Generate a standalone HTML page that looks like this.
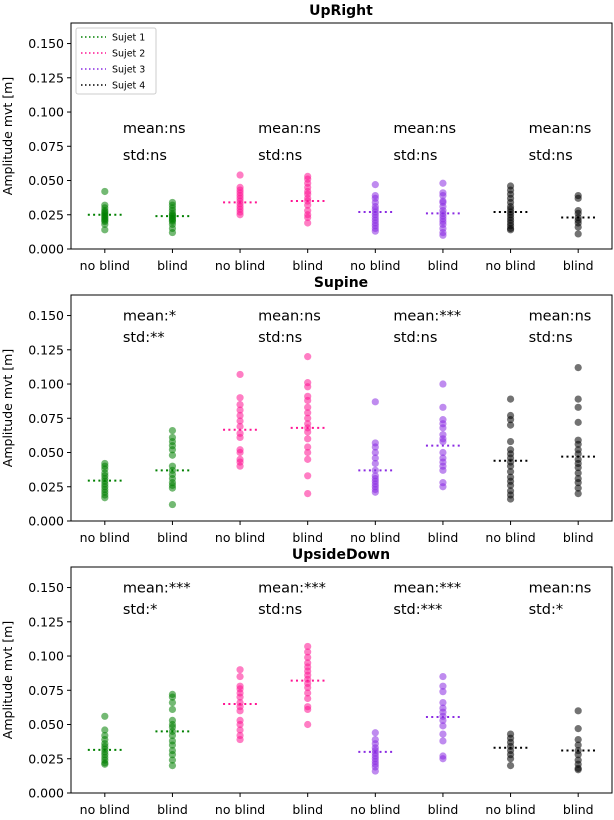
<!DOCTYPE html>
<html><head><meta charset="utf-8"><style>
body{margin:0;background:#fff}
svg{font-family:"DejaVu Sans","Liberation Sans",sans-serif}
</style></head><body>
<svg id="c" width="614" height="815"></svg>
<script>
const categories=["no blind","blind","no blind","blind","no blind","blind","no blind","blind"];
const yTicks=[0,0.025,0.05,0.075,0.1,0.125,0.15];
const panelTitles=["UpRight","Supine","UpsideDown"];
const legendLabels=["Sujet 1","Sujet 2","Sujet 3","Sujet 4"];
const colors=["#008000","#ff1493","#8a2be2","#000000"];
const upright=[
[0.042,0.032,0.030,0.028,0.027,0.026,0.025,0.024,0.023,0.022,0.021,0.020,0.018,0.014],
[0.034,0.032,0.030,0.028,0.026,0.025,0.024,0.023,0.022,0.021,0.020,0.018,0.015,0.012],
[0.054,0.045,0.043,0.041,0.039,0.037,0.035,0.033,0.031,0.029,0.027,0.025],
[0.053,0.051,0.048,0.045,0.042,0.040,0.037,0.035,0.032,0.028,0.025,0.023,0.019],
[0.047,0.039,0.037,0.034,0.031,0.029,0.027,0.025,0.023,0.021,0.019,0.017,0.015,0.013],
[0.048,0.041,0.039,0.035,0.034,0.031,0.028,0.026,0.024,0.022,0.020,0.018,0.015,0.012,0.010],
[0.046,0.043,0.040,0.037,0.034,0.031,0.029,0.027,0.025,0.023,0.021,0.019,0.017,0.015,0.014],
[0.039,0.037,0.028,0.026,0.023,0.021,0.019,0.016,0.011]];
const supine=[
[0.042,0.040,0.038,0.035,0.033,0.031,0.029,0.027,0.025,0.023,0.021,0.019,0.017],
[0.066,0.061,0.058,0.055,0.052,0.048,0.040,0.037,0.034,0.031,0.028,0.026,0.024,0.012],
[0.107,0.090,0.085,0.081,0.077,0.073,0.069,0.064,0.061,0.052,0.050,0.045,0.043,0.040],
[0.120,0.101,0.098,0.091,0.088,0.083,0.079,0.075,0.071,0.068,0.065,0.060,0.054,0.050,0.045,0.033,0.020],
[0.087,0.057,0.054,0.050,0.046,0.042,0.037,0.033,0.031,0.029,0.027,0.025,0.023,0.021],
[0.100,0.083,0.074,0.071,0.068,0.063,0.060,0.058,0.050,0.046,0.043,0.040,0.037,0.028,0.025],
[0.089,0.077,0.074,0.070,0.058,0.052,0.049,0.046,0.043,0.040,0.036,0.032,0.029,0.026,0.022,0.019,0.016],
[0.112,0.089,0.083,0.072,0.059,0.056,0.052,0.049,0.045,0.042,0.039,0.035,0.031,0.028,0.024,0.020]];
const upsidedown=[
[0.056,0.046,0.042,0.039,0.036,0.034,0.032,0.030,0.028,0.026,0.024,0.022,0.021],
[0.072,0.070,0.066,0.061,0.053,0.050,0.048,0.045,0.042,0.038,0.035,0.031,0.028,0.024,0.020],
[0.090,0.085,0.078,0.076,0.073,0.070,0.066,0.063,0.060,0.053,0.050,0.046,0.042,0.039],
[0.107,0.103,0.099,0.095,0.092,0.089,0.086,0.083,0.080,0.077,0.073,0.069,0.063,0.061,0.050],
[0.044,0.039,0.036,0.033,0.031,0.029,0.027,0.025,0.023,0.021,0.019,0.016],
[0.085,0.078,0.074,0.066,0.062,0.059,0.056,0.053,0.049,0.043,0.038,0.027,0.025],
[0.043,0.040,0.037,0.034,0.031,0.028,0.025,0.020],
[0.060,0.047,0.039,0.035,0.031,0.028,0.024,0.021,0.018,0.017]];
const uprightMeans=[0.025,0.024,0.034,0.035,0.027,0.026,0.027,0.023];
const supineMeans=[0.0295,0.037,0.0666,0.068,0.037,0.055,0.044,0.047];
const upsidedownMeans=[0.0315,0.045,0.065,0.082,0.030,0.0555,0.033,0.031];
const statsMean=[["mean:ns","mean:ns","mean:ns","mean:ns"],["mean:*","mean:ns","mean:***","mean:ns"],["mean:***","mean:***","mean:***","mean:ns"]];
const statsStd=[["std:ns","std:ns","std:ns","std:ns"],["std:**","std:ns","std:ns","std:ns"],["std:*","std:ns","std:***","std:*"]];
const statY=[[0.0885,0.0687],[0.150,0.1345],[0.150,0.1345]];
const panelData=[upright,supine,upsidedown];
const panelMeans=[uprightMeans,supineMeans,upsidedownMeans];

const NS="http://www.w3.org/2000/svg";
const svg=document.getElementById('c');
function mk(tag,at,parent){const e=document.createElementNS(NS,tag);for(const k in at)e.setAttribute(k,at[k]);(parent||svg).appendChild(e);return e;}
const L=71,R=612,H=226,tops=[23,295,567];
const xs=i=>L+(i+0.5)*(R-L)/8;
tops.forEach((top,p)=>{
  const bottom=top+H;
  const ys=v=>bottom-v/0.165*H;
  const g=mk('g',{});
  
  
  const t=mk('text',{x:341,y:top-8,'text-anchor':'middle','font-size':14,'font-weight':'bold'},g);t.textContent=panelTitles[p];
  
  const yl=mk('text',{transform:`translate(12,${top+H/2}) rotate(-90)`,'text-anchor':'middle','font-size':12.5},g);yl.textContent="Amplitude mvt [m]";
  
  yTicks.forEach(v=>{
    mk('line',{x1:L-4,x2:L,y1:ys(v),y2:ys(v),stroke:'#000'},g);
    const tl=mk('text',{x:L-7,y:ys(v)+4.5,'text-anchor':'end','font-size':12.5},g);tl.textContent=v.toFixed(3);
    
  });
  categories.forEach((c,i)=>{
    mk('line',{x1:xs(i),x2:xs(i),y1:bottom,y2:bottom+4,stroke:'#000'},g);
    const tl=mk('text',{x:xs(i),y:bottom+21,'text-anchor':'middle','font-size':12.5},g);tl.textContent=c;
    
    const col=colors[Math.floor(i/2)];
    const vals=panelData[p][i];
    vals.forEach(v=>{
      const d=mk('circle',{cx:xs(i),cy:ys(v),r:3.6,fill:col,'fill-opacity':0.55},g);
      
    });
    const m=panelMeans[p][i];
    const ml=mk('line',{x1:xs(i)-17,x2:xs(i)+17,y1:ys(m),y2:ys(m),stroke:col,'stroke-width':2,'stroke-dasharray':'2 3.3'},g);
    
  });
  for(let k=0;k<4;k++){
    const a=mk('text',{x:xs(2*k)+18,y:ys(statY[p][0])+5,'font-size':14.5},g);a.textContent=statsMean[p][k];
    
    const b=mk('text',{x:xs(2*k)+18,y:ys(statY[p][1])+5,'font-size':14.5},g);b.textContent=statsStd[p][k];
    
  }
  const fr=mk('rect',{x:L,y:top,width:R-L,height:H,fill:'none',stroke:'#000','stroke-width':1},g);
  
});
const lg=mk('g',{});

mk('rect',{x:76,y:28,width:80,height:66,rx:2,fill:'#fff',stroke:'#ccc'},lg);
legendLabels.forEach((s,i)=>{
  const y=37+i*16;
  mk('line',{x1:81,x2:106,y1:y,y2:y,stroke:colors[i],'stroke-width':1.5,'stroke-dasharray':'1.5 2.5'},lg);
  const t=mk('text',{x:112,y:y+3.5,'font-size':9.5},lg);t.textContent=s;
  
});
</script>
</body></html>
